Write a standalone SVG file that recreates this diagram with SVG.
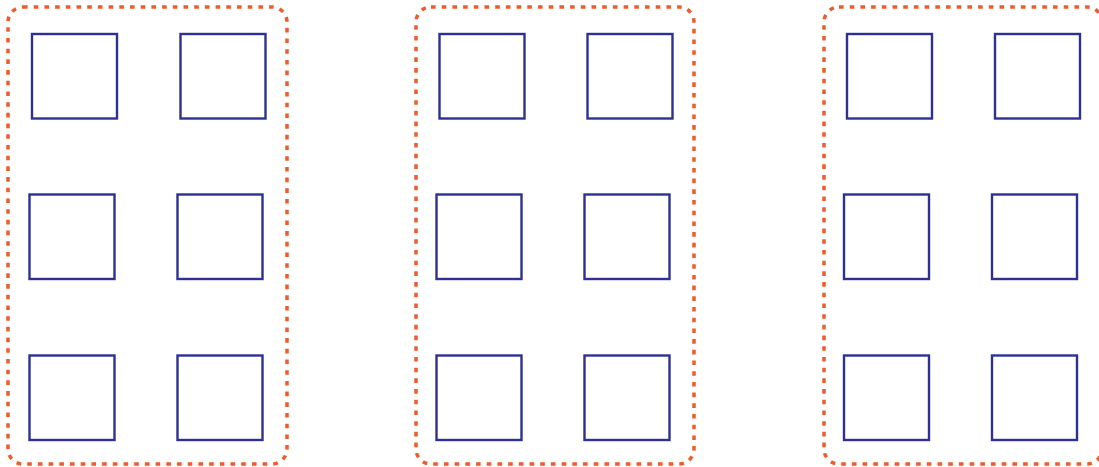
<svg xmlns="http://www.w3.org/2000/svg" width="1099" height="467" viewBox="0 0 1099 467">
<style>
.grp{fill:none;stroke:#f15a2b;stroke-width:3.5;stroke-dasharray:4.6 6.1}
.sq{fill:#fff;stroke:#2e3192;stroke-width:2.4}
</style>
<rect width="1099" height="467" fill="#fff"/>
<g id="group1">
<rect class="grp" x="8" y="7" width="279" height="457" rx="15"/>
<rect id="n1" class="sq" x="32" y="34" width="85" height="84.5"/>
<rect id="n2" class="sq" x="180.5" y="34" width="85" height="84.5"/>
<rect id="n3" class="sq" x="29.5" y="194.5" width="85" height="84.5"/>
<rect id="n4" class="sq" x="177.5" y="194.5" width="85" height="84.5"/>
<rect id="n5" class="sq" x="29.5" y="355.5" width="85" height="84.5"/>
<rect id="n6" class="sq" x="177.5" y="355.5" width="85" height="84.5"/>
</g>
<g id="group2">
<rect class="grp" x="416" y="7" width="278" height="457" rx="15"/>
<rect id="n7" class="sq" x="439.5" y="34" width="85" height="84.5"/>
<rect id="n8" class="sq" x="587.5" y="34" width="85" height="84.5"/>
<rect id="n9" class="sq" x="436.5" y="194.5" width="85" height="84.5"/>
<rect id="n10" class="sq" x="584.5" y="194.5" width="85" height="84.5"/>
<rect id="n11" class="sq" x="436.5" y="355.5" width="85" height="84.5"/>
<rect id="n12" class="sq" x="584.5" y="355.5" width="85" height="84.5"/>
</g>
<g id="group3">
<rect class="grp" x="824" y="7" width="278" height="457" rx="15"/>
<rect id="n13" class="sq" x="847" y="34" width="85" height="84.5"/>
<rect id="n14" class="sq" x="995" y="34" width="85" height="84.5"/>
<rect id="n15" class="sq" x="844" y="194.5" width="85" height="84.5"/>
<rect id="n16" class="sq" x="992" y="194.5" width="85" height="84.5"/>
<rect id="n17" class="sq" x="844" y="355.5" width="85" height="84.5"/>
<rect id="n18" class="sq" x="992" y="355.5" width="85" height="84.5"/>
</g>
<g id="connectors"></g>
</svg>
